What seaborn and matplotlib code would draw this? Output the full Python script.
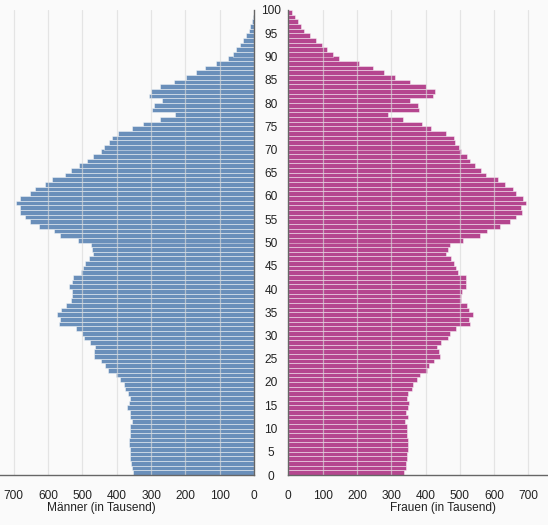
import numpy as np
import pandas as pd
import matplotlib
matplotlib.use("Agg")
import matplotlib.pyplot as plt
import seaborn as sns

# ---------------- data ----------------
ages = list(range(100))
men = [352, 355, 358, 360, 362, 362, 363, 363, 362, 360,
       360, 355, 362, 360, 370, 365, 362, 367, 375, 380,
       391, 403, 426, 433, 447, 465, 467, 462, 479, 494,
       500, 518, 567, 564, 574, 562, 549, 533, 530, 530,
       538, 530, 528, 504, 497, 491, 481, 468, 471, 474,
       513, 564, 583, 627, 654, 668, 683, 683, 693, 681,
       654, 638, 610, 589, 551, 533, 510, 487, 468, 445,
       437, 423, 415, 395, 354, 323, 273, 229, 297, 292,
       268, 307, 301, 274, 234, 198, 169, 142, 112, 75,
       62, 52, 42, 31, 22, 15, 11, 6, 3, 1]
women = [337, 342, 344, 345, 347, 348, 348, 348, 347, 347,
         346, 341, 348, 343, 350, 351, 345, 350, 361, 363,
         374, 385, 405, 410, 425, 442, 440, 434, 445, 465,
         471, 489, 530, 527, 538, 527, 521, 503, 504, 506,
         518, 517, 518, 494, 488, 482, 475, 460, 467, 471,
         510, 559, 578, 618, 646, 663, 680, 679, 692, 685,
         663, 654, 631, 611, 575, 561, 545, 529, 520, 503,
         499, 486, 482, 461, 416, 389, 334, 292, 381, 377,
         356, 421, 427, 402, 355, 311, 280, 246, 207, 148,
         129, 113, 99, 81, 63, 47, 38, 27, 19, 12]
x_ticks = [0, 100, 200, 300, 400, 500, 600, 700]
y_ticks = list(range(0, 101, 5))
y_grid = list(range(0, 101, 10))
men_label = "Männer (in Tausend)"
women_label = "Frauen (in Tausend)"

df = pd.DataFrame({"age": ages, "men": men, "women": women})

# ---------------- style ----------------
sns.set_theme(style="white")
plt.rcParams["font.family"] = ["Liberation Sans", "DejaVu Sans"]

bg = "#fafafa"
blue = "#6a8fba"
magenta = "#b5468f"
grid_c = "#d9d9d9"
axis_c = "#666666"
fs = 8.6

W, H = 548, 525
fig = plt.figure(figsize=(W / 100, H / 100), dpi=100, facecolor=bg)
axL = fig.add_axes([0, 50 / H, 254 / W, 465 / H])
axR = fig.add_axes([288.3 / W, 50 / H, (W - 288.3) / W, 465 / H])

for ax, col, color in ((axL, "men", blue), (axR, "women", magenta)):
    ax.set_facecolor(bg)
    sns.barplot(data=df, x=col, y="age", orient="y", native_scale=True,
                width=1, color=color, saturation=1, errorbar=None,
                edgecolor=(1, 1, 1, 0.5), linewidth=0.6, ax=ax)
    ax.set_axisbelow(False)
    ax.set_ylim(-0.5, 99.5)
    ax.set_xticks(x_ticks)
    ax.set_xticklabels([str(t) for t in x_ticks])
    ax.set_yticks([t - 0.5 for t in y_ticks])
    ax.set_yticks([t - 0.5 for t in y_grid], minor=True)
    ax.grid(False)
    ax.xaxis.grid(True, color=grid_c, linewidth=0.9, alpha=0.65)
    ax.yaxis.grid(True, which="minor", color=grid_c, linewidth=0.9, alpha=0.65)
    ax.tick_params(axis="x", length=5, width=1, color=axis_c, labelsize=fs,
                   pad=6, labelcolor="#222222")
    ax.tick_params(axis="y", which="both", length=0)
    for s in ax.spines.values():
        s.set_visible(False)
    ax.spines["bottom"].set_visible(True)
    ax.spines["bottom"].set_color(axis_c)
    ax.spines["bottom"].set_linewidth(1)
    ax.spines["bottom"].set_zorder(5)
    ax.set_ylabel("")

# left (men)
axL.set_xlim(740, 0)
axL.spines["right"].set_visible(True)
axL.spines["right"].set_color(axis_c)
axL.spines["right"].set_linewidth(1)
axL.spines["right"].set_zorder(5)
axL.yaxis.tick_right()
axL.set_yticklabels([str(t) for t in y_ticks])
axL.tick_params(axis="y", labelsize=fs, pad=12.2, labelcolor="#222222")
for lbl in axL.get_yticklabels():
    lbl.set_horizontalalignment("center")
axL.set_xlabel(men_label, fontsize=fs, color="#222222")
axL.xaxis.set_label_coords(101 / 254, -0.058)

# right (women)
axR.set_xlim(0, (W - 288.3) / 0.343)
axR.spines["left"].set_visible(True)
axR.spines["left"].set_color(axis_c)
axR.spines["left"].set_linewidth(1)
axR.spines["left"].set_zorder(5)
axR.tick_params(axis="y", labelleft=False)
axR.set_xlabel(women_label, fontsize=fs, color="#222222")
axR.xaxis.set_label_coords((443.5 - 288.3) / (W - 288.3), -0.058)

fig.savefig("out.png", dpi=100, facecolor=bg)
